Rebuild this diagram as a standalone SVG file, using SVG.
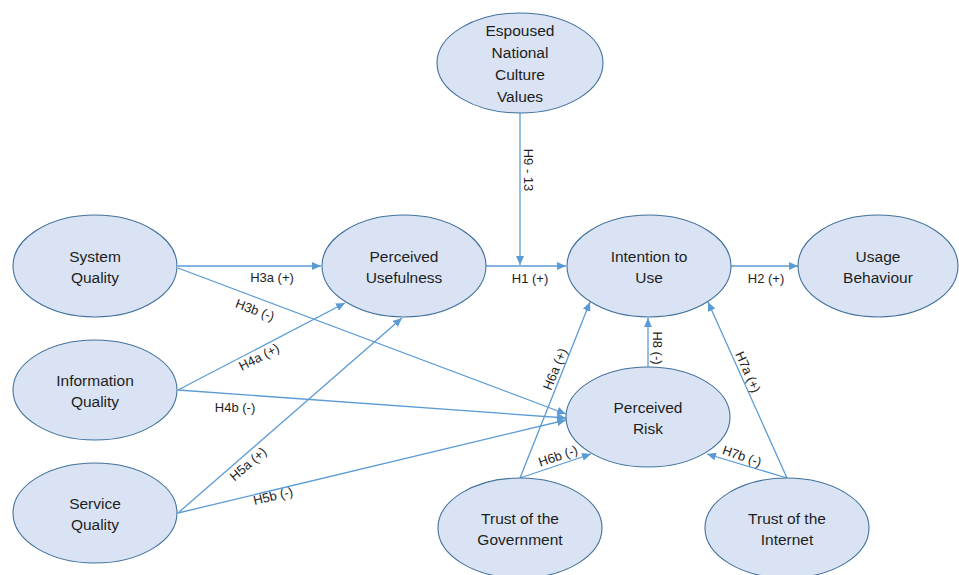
<svg xmlns="http://www.w3.org/2000/svg" width="959" height="575" viewBox="0 0 959 575">
<defs>
<marker id="arr" markerUnits="userSpaceOnUse" markerWidth="10" markerHeight="8" refX="9" refY="4" orient="auto">
<path d="M0,0 L9,4 L0,8 Z" fill="#5b9bd5"/>
</marker>
<style>
.node ellipse{fill:#dae3f3;stroke:#41719c;stroke-width:1.1}
.node text{font-family:"Liberation Sans",Arial,sans-serif;font-size:15.5px;fill:#1e1e1e;text-anchor:middle}
.edges line{stroke:#5b9bd5;stroke-width:1.3;fill:none;marker-end:url(#arr)}
.lbl text{font-family:"Liberation Sans",Arial,sans-serif;font-size:13px;fill:#1e1e1e;text-anchor:middle;dominant-baseline:central}
</style>
</defs>
<rect width="959" height="575" fill="#ffffff"/>

<g class="edges" id="connectors">
<line x1="178" y1="266" x2="321" y2="266"/>
<line x1="178" y1="268" x2="566" y2="414"/>
<line x1="178" y1="390" x2="345" y2="303"/>
<line x1="178" y1="390" x2="566" y2="418"/>
<line x1="178" y1="513" x2="402" y2="318"/>
<line x1="178" y1="513" x2="566" y2="420"/>
<line x1="486" y1="266" x2="566" y2="266"/>
<line x1="520" y1="113" x2="520" y2="265"/>
<line x1="731" y1="266" x2="798" y2="266"/>
<line x1="648" y1="367" x2="648" y2="318"/>
<line x1="520" y1="478" x2="590" y2="302"/>
<line x1="520" y1="478" x2="591" y2="454"/>
<line x1="787" y1="478" x2="708" y2="302"/>
<line x1="787" y1="478" x2="707" y2="454"/>
</g>

<g class="lbl" id="labels">
<text x="272" y="277">H3a (+)</text>
<text x="255" y="310" transform="rotate(20.6 255 310)">H3b (-)</text>
<text x="259" y="357" transform="rotate(-27.5 259 357)">H4a (+)</text>
<text x="235" y="407">H4b (-)</text>
<text x="248" y="464" transform="rotate(-41 248 464)">H5a (+)</text>
<text x="273" y="496" transform="rotate(-13.5 273 496)">H5b (-)</text>
<text x="530" y="278">H1 (+)</text>
<text x="766" y="278">H2 (+)</text>
<text x="528" y="170" transform="rotate(90 528 170)">H9 - 13</text>
<text x="657" y="348" transform="rotate(90 657 348)">H8 (-)</text>
<text x="555" y="369" transform="rotate(-68 555 369)">H6a (+)</text>
<text x="748" y="372" transform="rotate(65.7 748 372)">H7a (+)</text>
<text x="558" y="456" transform="rotate(-19 558 456)">H6b (-)</text>
<text x="742" y="456" transform="rotate(19 742 456)">H7b (-)</text>
</g>

<g class="node" id="espoused">
<ellipse cx="520" cy="63" rx="83" ry="50"/>
<text x="520" y="36">Espoused</text>
<text x="520" y="58">National</text>
<text x="520" y="80">Culture</text>
<text x="520" y="102">Values</text>
</g>
<g class="node" id="system-quality">
<ellipse cx="95" cy="266" rx="82" ry="51"/>
<text x="95" y="262">System</text>
<text x="95" y="283">Quality</text>
</g>
<g class="node" id="information-quality">
<ellipse cx="95" cy="390" rx="82" ry="50"/>
<text x="95" y="386">Information</text>
<text x="95" y="407">Quality</text>
</g>
<g class="node" id="service-quality">
<ellipse cx="95" cy="513" rx="82" ry="50"/>
<text x="95" y="509">Service</text>
<text x="95" y="530">Quality</text>
</g>
<g class="node" id="perceived-usefulness">
<ellipse cx="404" cy="266" rx="82" ry="51"/>
<text x="404" y="262">Perceived</text>
<text x="404" y="283">Usefulness</text>
</g>
<g class="node" id="intention-to-use">
<ellipse cx="649" cy="266" rx="82" ry="51"/>
<text x="649" y="262">Intention to</text>
<text x="649" y="283">Use</text>
</g>
<g class="node" id="usage-behaviour">
<ellipse cx="878" cy="266" rx="80" ry="51"/>
<text x="878" y="262">Usage</text>
<text x="878" y="283">Behaviour</text>
</g>
<g class="node" id="perceived-risk">
<ellipse cx="648" cy="417" rx="82" ry="50"/>
<text x="648" y="413">Perceived</text>
<text x="648" y="434">Risk</text>
</g>
<g class="node" id="trust-government">
<ellipse cx="520" cy="528" rx="82" ry="50"/>
<text x="520" y="524">Trust of the</text>
<text x="520" y="545">Government</text>
</g>
<g class="node" id="trust-internet">
<ellipse cx="787" cy="528" rx="82" ry="50"/>
<text x="787" y="524">Trust of the</text>
<text x="787" y="545">Internet</text>
</g>
</svg>
